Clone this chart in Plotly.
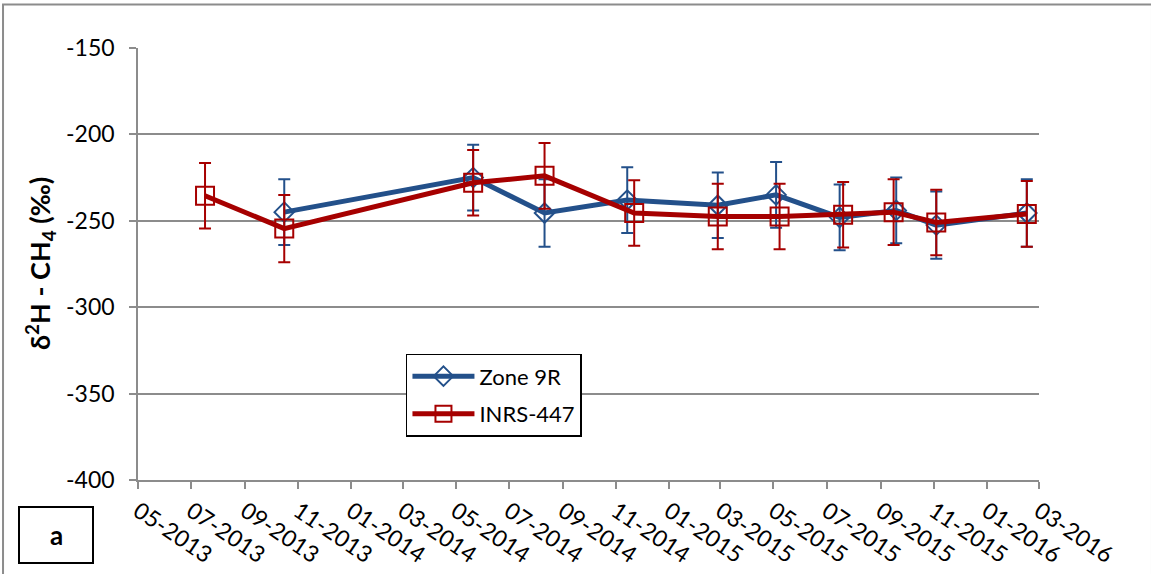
import plotly.graph_objects as go

# Zone 9R sampling campaign
zone_dates = ["2013-10-16", "2014-05-21", "2014-08-11", "2014-11-14", "2015-02-26",
              "2015-05-04", "2015-07-16", "2015-09-19", "2015-11-04", "2016-02-16"]
zone_d2h = [-245.0, -225.0, -245.5, -238.0, -241.0, -235.0, -248.0, -244.0, -252.5, -245.5]
zone_err = [19, 19, 19.5, 19, 19, 19, 19, 19, 19.5, 19.5]

# INRS-447 sampling campaign
inrs_dates = ["2013-07-17", "2013-10-16", "2014-05-21", "2014-08-11", "2014-11-22", "2015-02-26",
              "2015-05-08", "2015-07-20", "2015-09-16", "2015-11-04", "2016-02-16"]
inrs_d2h = [-235.5, -254.5, -228.0, -224.0, -245.5, -247.5, -247.5, -246.5, -245.0, -251.0, -246.0]
inrs_err = [19, 19.5, 19, 19, 19, 19, 19, 19, 19, 19, 19]

y_ticks = [-400, -350, -300, -250, -200, -150]
y_tick_text = ["-400", "-350", "-300", "-250", "-200", "-150"]
x_start, x_end = "2013-05-01", "2016-03-01"

BLUE = "#23508A"
RED = "#A60000"
GRID = "#8C8C8C"
FONT = "Lato, 'Open Sans', sans-serif"

fig = go.Figure()

fig.add_trace(go.Scatter(
    x=zone_dates, y=zone_d2h, name="Zone 9R", mode="lines+markers",
    legendgroup="zone",
    line=dict(color=BLUE, width=5),
    marker=dict(symbol="diamond-open", size=15, color=BLUE, line=dict(width=2, color=BLUE)),
    error_y=dict(type="data", array=zone_err, visible=True, color=BLUE, thickness=2, width=6),
))
fig.add_trace(go.Scatter(
    x=inrs_dates, y=inrs_d2h, name="INRS-447", mode="lines+markers",
    legendgroup="inrs",
    line=dict(color=RED, width=5),
    marker=dict(symbol="square-open", size=18, color=RED, line=dict(width=2, color=RED)),
    error_y=dict(type="data", array=inrs_err, visible=True, color=RED, thickness=2, width=6),
))

fig.update_layout(
    width=1151, height=574,
    margin=dict(l=138, r=112, t=48, b=94, autoexpand=False),
    paper_bgcolor="white", plot_bgcolor="white",
    font=dict(family=FONT, size=22, color="black"),
    showlegend=True,
    legend=dict(
        x=0.2974, y=0.292, xanchor="left", yanchor="top",
        bgcolor="white", bordercolor="black", borderwidth=1.5,
        font=dict(family=FONT, size=22, color="black"),
        traceorder="grouped", tracegroupgap=6,
        itemwidth=62,
    ),
    xaxis=dict(
        type="date", range=[x_start, x_end], automargin=False,
        tick0=x_start, dtick="M2", tickformat="%m-%Y",
        tickangle=34, ticks="outside", ticklen=7, tickcolor=GRID, tickwidth=1.5,
        showline=True, linecolor=GRID, linewidth=1.5,
        showgrid=False, zeroline=False,
        tickfont=dict(family=FONT, size=23),
    ),
    yaxis=dict(
        range=[-400, -150], tickvals=y_ticks, ticktext=y_tick_text, automargin=False,
        ticks="outside", ticklen=7, tickcolor=GRID, tickwidth=1.5,
        ticklabelstandoff=10,
        showline=True, linecolor=GRID, linewidth=1.5,
        showgrid=True, gridcolor=GRID, gridwidth=1.5,
        zeroline=False,
        tickfont=dict(family=FONT, size=23),
    ),
    shapes=[
        # outer chart frame
        dict(type="rect", xref="paper", yref="paper",
             x0=-0.1498, x1=1.1254, y0=-0.2224, y1=1.1006,
             line=dict(color=GRID, width=2), layer="below"),
        # panel label box
        dict(type="rect", xref="paper", yref="paper",
             x0=(19 - 138) / 901, x1=(93 - 138) / 901,
             y0=(480 - 563) / 431.6, y1=(480 - 507) / 431.6,
             line=dict(color="black", width=2), fillcolor="white"),
    ],
    annotations=[
        dict(text="<b>δ<sup>2</sup>H - CH<sub>4</sub> (‰)</b>",
             xref="paper", yref="paper", x=(40 - 138) / 901, y=0.5,
             textangle=-90, showarrow=False, xanchor="center", yanchor="middle",
             font=dict(family=FONT, size=27, color="black")),
        dict(text="<b>a</b>", xref="paper", yref="paper",
             x=(56 - 138) / 901, y=(480 - 535) / 431.6,
             showarrow=False, xanchor="center", yanchor="middle",
             font=dict(family=FONT, size=26, color="black")),
    ],
)

fig.write_html("out.html")
